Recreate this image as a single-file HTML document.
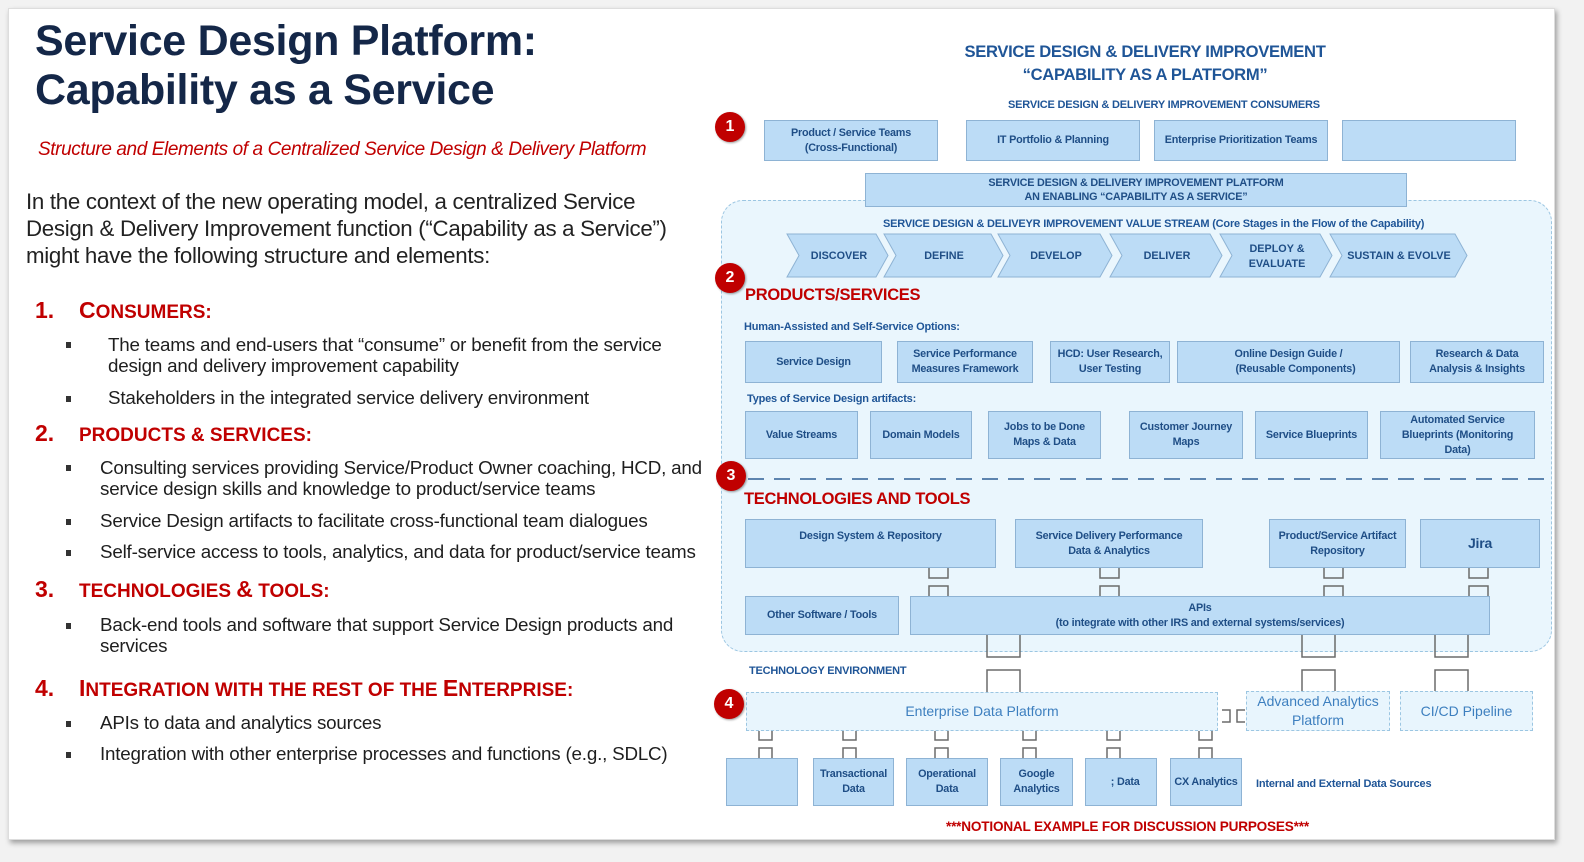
<!DOCTYPE html>
<html><head><meta charset="utf-8"><style>
*{margin:0;padding:0;box-sizing:border-box}
body{width:1584px;height:862px;background:#f2f2f2;position:relative;overflow:hidden;font-family:"Liberation Sans",sans-serif}
.slide{position:absolute;left:8px;top:8px;width:1547px;height:832px;background:#fff;box-shadow:2px 3px 5px rgba(0,0,0,.35);border:1px solid #ddd}
.a{position:absolute;white-space:nowrap}
.b{position:absolute;background:#bcdcf6;border:1px solid #8eb3d4;display:flex;align-items:center;justify-content:center;text-align:center;color:#1f4e86;font-size:10.8px;font-weight:bold;line-height:15px;letter-spacing:-.2px}
.n{position:absolute;width:30px;height:30px;border-radius:50%;background:#c00000;color:#fff;font-weight:bold;font-size:16px;display:flex;align-items:center;justify-content:center;box-shadow:1px 1px 2px rgba(0,0,0,.4)}
.h{color:#c00000;font-weight:bold;font-size:23px}
.h small{font-size:19px}
.bl{font-size:18.8px;color:#1e1e1e;letter-spacing:-.2px;line-height:21px}
.sq{position:absolute;width:5px;height:6px;background:#333}
.lbl{position:absolute;white-space:nowrap;color:#1f5597;font-weight:bold;font-size:11px;letter-spacing:-.2px}
.d{position:absolute;border:1.5px dashed #9cc6e2;background:#e8f5fd;display:flex;align-items:center;justify-content:center;text-align:center;color:#3d7fbf;font-size:14px;line-height:19px}
</style></head><body>
<div class="slide"></div>

<div class="a" style="left:35px;top:17px;font-size:43px;font-weight:bold;color:#142748;line-height:49px;letter-spacing:-.3px">Service Design Platform:<br>Capability as a Service</div>
<div class="a" style="left:38px;top:139px;font-size:19px;font-style:italic;color:#c00000;letter-spacing:-.4px">Structure and Elements of a Centralized Service Design &amp; Delivery Platform</div>
<div class="a" style="left:26px;top:188px;font-size:22.3px;color:#222;line-height:27px;letter-spacing:-.3px">In the context of the new operating model, a centralized Service<br>Design &amp; Delivery Improvement function (“Capability as a Service”)<br>might have the following structure and elements:</div>

<div class="a h" style="left:35px;top:297px">1.</div><div class="a h" style="left:79px;top:297px">C<small>ONSUMERS:</small></div>
<div class="sq" style="left:66px;top:342px"></div><div class="a bl" style="left:108px;top:334px">The teams and end-users that “consume” or benefit from the service<br>design and delivery improvement capability</div>
<div class="sq" style="left:66px;top:396px"></div><div class="a bl" style="left:108px;top:387px">Stakeholders in the integrated service delivery environment</div>

<div class="a h" style="left:35px;top:420px">2.</div><div class="a h" style="left:79px;top:420px"><small>PRODUCTS &amp; SERVICES:</small></div>
<div class="sq" style="left:66px;top:465px"></div><div class="a bl" style="left:100px;top:457px">Consulting services providing Service/Product Owner coaching, HCD, and<br>service design skills and knowledge to product/service teams</div>
<div class="sq" style="left:66px;top:519px"></div><div class="a bl" style="left:100px;top:510px">Service Design artifacts to facilitate cross-functional team dialogues</div>
<div class="sq" style="left:66px;top:550px"></div><div class="a bl" style="left:100px;top:541px">Self-service access to tools, analytics, and data for product/service teams</div>

<div class="a h" style="left:35px;top:576px">3.</div><div class="a h" style="left:79px;top:576px"><small>TECHNOLOGIES </small>&amp;<small> TOOLS:</small></div>
<div class="sq" style="left:66px;top:623px"></div><div class="a bl" style="left:100px;top:614px">Back-end tools and software that support Service Design products and<br>services</div>

<div class="a h" style="left:35px;top:675px">4.</div><div class="a h" style="left:79px;top:675px">I<small>NTEGRATION WITH THE REST OF THE </small>E<small>NTERPRISE:</small></div>
<div class="sq" style="left:66px;top:721px"></div><div class="a bl" style="left:100px;top:712px">APIs to data and analytics sources</div>
<div class="sq" style="left:66px;top:752px"></div><div class="a bl" style="left:100px;top:743px">Integration with other enterprise processes and functions (e.g., SDLC)</div>

<!-- right diagram -->
<div class="a" style="left:890px;top:40px;width:510px;text-align:center;color:#1f5597;font-weight:bold;font-size:16.6px;line-height:23px;letter-spacing:-.3px">SERVICE DESIGN &amp; DELIVERY IMPROVEMENT<br>“CAPABILITY AS A PLATFORM”</div>
<div class="lbl" style="left:1008px;top:99px">SERVICE DESIGN &amp; DELIVERY IMPROVEMENT CONSUMERS</div>

<div style="position:absolute;left:721px;top:200px;width:831px;height:452px;border:1.5px dashed #9cc6e2;border-radius:22px;background:#eaf6fd"></div>

<div class="b" style="left:764px;top:120px;width:174px;height:41px">Product / Service Teams<br>(Cross-Functional)</div>
<div class="b" style="left:966px;top:120px;width:174px;height:41px">IT Portfolio &amp; Planning</div>
<div class="b" style="left:1154px;top:120px;width:174px;height:41px">Enterprise Prioritization Teams</div>
<div class="b" style="left:1342px;top:120px;width:174px;height:41px"></div>
<div class="b" style="left:865px;top:173px;width:542px;height:34px;line-height:14px">SERVICE DESIGN &amp; DELIVERY IMPROVEMENT PLATFORM<br>AN ENABLING “CAPABILITY AS A SERVICE”</div>
<div class="lbl" style="left:883px;top:218px">SERVICE DESIGN &amp; DELIVEYR IMPROVEMENT VALUE STREAM (Core Stages in the Flow of the Capability)</div>

<svg style="position:absolute;left:0;top:0" width="1584" height="862">
<g fill="#bcdcf6" stroke="#8eb3d4" stroke-width="1">
<polygon points="787,234 876,234 888,255.5 876,277 787,277 799,255.5"/>
<polygon points="884,234 991,234 1003,255.5 991,277 884,277 896,255.5"/>
<polygon points="998,234 1100,234 1112,255.5 1100,277 998,277 1010,255.5"/>
<polygon points="1110,234 1210,234 1222,255.5 1210,277 1110,277 1122,255.5"/>
<polygon points="1220,234 1320,234 1332,255.5 1320,277 1220,277 1232,255.5"/>
<polygon points="1330,234 1455,234 1467,255.5 1455,277 1330,277 1342,255.5"/>
</g>
<g font-family="Liberation Sans" font-size="10.8" font-weight="bold" fill="#1f4e86" text-anchor="middle">
<text x="839" y="259">DISCOVER</text><text x="944" y="259">DEFINE</text><text x="1056" y="259">DEVELOP</text><text x="1167" y="259">DELIVER</text>
<text x="1277" y="252">DEPLOY &amp;</text><text x="1277" y="267">EVALUATE</text><text x="1399" y="259">SUSTAIN &amp; EVOLVE</text>
</g>
<line x1="748" y1="479" x2="1548" y2="479" stroke="#2e5f95" stroke-width="1.5" stroke-dasharray="16 10"/>
<g fill="none" stroke="#6b6b6b" stroke-width="1.5">
<path d="M929 568V578H948V568M929 597V586H948V597"/>
<path d="M1100 568V578H1119V568M1100 597V586H1119V597"/>
<path d="M1324 568V578H1343V568M1324 597V586H1343V597"/>
<path d="M1469 568V578H1488V568M1469 597V586H1488V597"/>
<path d="M987 635V657H1020V635M987 692V670H1020V692"/>
<path d="M1302 635V657H1335V635M1302 692V670H1335V692"/>
<path d="M1435 635V657H1468V635M1435 692V670H1468V692"/>
<path d="M1222 710H1230V722H1222M1245 710H1237V722H1245"/>
<path d="M759 731V740H772V731M759 758V748H772V758"/>
<path d="M843 731V740H856V731M843 758V748H856V758"/>
<path d="M935 731V740H948V731M935 758V748H948V758"/>
<path d="M1023 731V740H1036V731M1023 758V748H1036V758"/>
<path d="M1107 731V740H1120V731M1107 758V748H1120V758"/>
<path d="M1199 731V740H1212V731M1199 758V748H1212V758"/>
</g>
</svg>

<div class="a" style="left:745px;top:286px;color:#c00000;font-weight:bold;font-size:16.5px;letter-spacing:-.3px">PRODUCTS/SERVICES</div>
<div class="lbl" style="left:744px;top:321px">Human-Assisted and Self-Service Options:</div>
<div class="b" style="left:745px;top:341px;width:137px;height:42px">Service Design</div>
<div class="b" style="left:897px;top:341px;width:136px;height:42px">Service Performance<br>Measures Framework</div>
<div class="b" style="left:1050px;top:341px;width:120px;height:42px">HCD: User Research,<br>User Testing</div>
<div class="b" style="left:1177px;top:341px;width:223px;height:42px">Online Design Guide /<br>&nbsp;&nbsp;&nbsp;&nbsp;&nbsp;(Reusable Components)</div>
<div class="b" style="left:1410px;top:341px;width:134px;height:42px">Research &amp; Data<br>Analysis &amp; Insights</div>
<div class="lbl" style="left:747px;top:393px">Types of Service Design artifacts:</div>
<div class="b" style="left:745px;top:411px;width:113px;height:48px">Value Streams</div>
<div class="b" style="left:870px;top:411px;width:102px;height:48px">Domain Models</div>
<div class="b" style="left:988px;top:411px;width:113px;height:48px">Jobs to be Done<br>Maps &amp; Data</div>
<div class="b" style="left:1129px;top:411px;width:114px;height:48px">Customer Journey<br>Maps</div>
<div class="b" style="left:1255px;top:411px;width:113px;height:48px">Service Blueprints</div>
<div class="b" style="left:1380px;top:411px;width:155px;height:48px">Automated Service<br>Blueprints (Monitoring<br>Data)</div>

<div class="a" style="left:744px;top:490px;color:#c00000;font-weight:bold;font-size:16.5px;letter-spacing:-.3px">TECHNOLOGIES AND TOOLS</div>
<div class="b" style="left:745px;top:519px;width:251px;height:49px;align-items:flex-start;padding-top:9px">Design System &amp; Repository</div>
<div class="b" style="left:1015px;top:519px;width:188px;height:49px;align-items:flex-start;padding-top:9px">Service Delivery Performance<br>Data &amp; Analytics</div>
<div class="b" style="left:1269px;top:519px;width:137px;height:49px;align-items:flex-start;padding-top:9px">Product/Service Artifact<br>Repository</div>
<div class="b" style="left:1420px;top:519px;width:120px;height:49px;font-size:14px">Jira</div>
<div class="b" style="left:745px;top:596px;width:154px;height:39px">Other Software / Tools</div>
<div class="b" style="left:910px;top:596px;width:580px;height:39px">APIs<br>(to integrate with other IRS and external systems/services)</div>

<div class="lbl" style="left:749px;top:665px">TECHNOLOGY ENVIRONMENT</div>
<div class="d" style="left:746px;top:692px;width:472px;height:39px">Enterprise Data Platform</div>
<div class="d" style="left:1246px;top:691px;width:144px;height:40px">Advanced Analytics<br>Platform</div>
<div class="d" style="left:1400px;top:691px;width:133px;height:40px">CI/CD Pipeline</div>

<div class="b" style="left:726px;top:758px;width:72px;height:48px"></div>
<div class="b" style="left:813px;top:758px;width:81px;height:48px">Transactional<br>Data</div>
<div class="b" style="left:906px;top:758px;width:82px;height:48px">Operational<br>Data</div>
<div class="b" style="left:1000px;top:758px;width:73px;height:48px">Google<br>Analytics</div>
<div class="b" style="left:1085px;top:758px;width:72px;height:48px">&nbsp;&nbsp;&nbsp;; Data</div>
<div class="b" style="left:1170px;top:758px;width:72px;height:48px">CX Analytics</div>
<div class="lbl" style="left:1256px;top:778px">Internal and External Data Sources</div>
<div class="a" style="left:946px;top:819px;color:#c00000;font-weight:bold;font-size:13.6px;letter-spacing:-.2px">***NOTIONAL EXAMPLE FOR DISCUSSION PURPOSES***</div>

<div class="n" style="left:715px;top:112px">1</div>
<div class="n" style="left:715px;top:263px">2</div>
<div class="n" style="left:716px;top:461px">3</div>
<div class="n" style="left:714px;top:689px">4</div>
</body></html>
